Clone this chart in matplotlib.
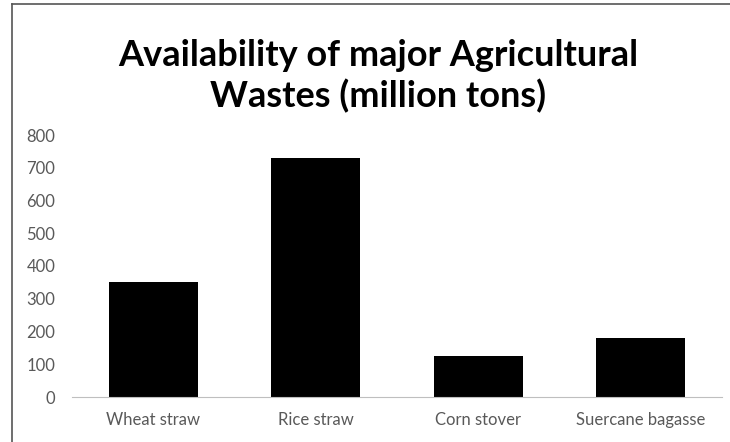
import matplotlib.pyplot as plt
from matplotlib.lines import Line2D

categories = ["Wheat straw", "Rice straw", "Corn stover", "Suercane bagasse"]
values = [350, 730, 126, 180]
yticks = [0, 100, 200, 300, 400, 500, 600, 700, 800]

plt.rcParams['font.family'] = ['Lato', 'DejaVu Sans']

fig = plt.figure(figsize=(7.3, 4.42), dpi=100)
ax = fig.add_axes([72 / 730, 1 - 397 / 442, 650 / 730, 262 / 442])

x = range(len(categories))
ax.bar(x, values, width=0.55, color="black")
ax.set_xlim(-0.5, len(categories) - 0.5)
ax.set_ylim(0, 800)
ax.set_yticks(yticks)
ax.set_xticks(list(x))
ax.set_xticklabels(categories)

for side in ["top", "right", "left"]:
    ax.spines[side].set_visible(False)
ax.spines["bottom"].set_color("#bfbfbf")
ax.tick_params(axis="both", length=0, colors="#595959", labelsize=12)
ax.tick_params(axis="y", pad=12)
ax.tick_params(axis="x", pad=11)

fig.text(378 / 730, 1 - 56 / 442, "Availability of major Agricultural",
         ha="center", va="center", fontsize=26, fontweight="bold", color="black")
fig.text(378 / 730, 1 - 96 / 442, "Wastes (million tons)",
         ha="center", va="center", fontsize=26, fontweight="bold", color="black")

# frame lines around the picture (left and top)
fig.add_artist(Line2D([11.5 / 730, 11.5 / 730], [0, 1 - 4 / 442], transform=fig.transFigure,
                      color="#555555", lw=1.2))
fig.add_artist(Line2D([11.5 / 730, 1], [1 - 4 / 442, 1 - 4 / 442], transform=fig.transFigure,
                      color="#555555", lw=1.2))

fig.savefig("out.png", dpi=100)
